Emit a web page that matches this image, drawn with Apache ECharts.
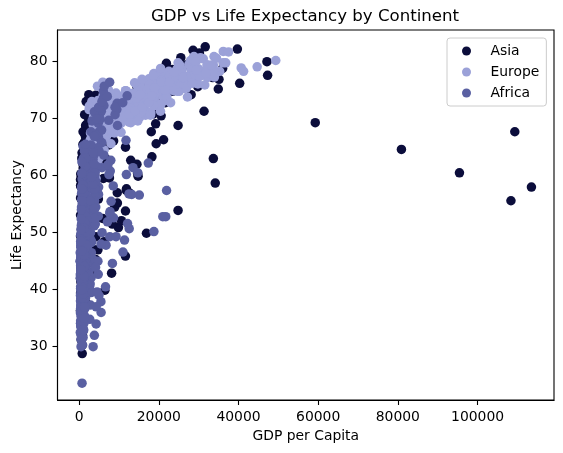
<!DOCTYPE html>
<html>
<head>
<meta charset="utf-8">
<script src="https://cdn.jsdelivr.net/npm/echarts@6/dist/echarts.min.js"></script>
<style>
html,body{margin:0;padding:0;background:#fff;}
#chart{width:563px;height:453px;}
</style>
</head>
<body>
<div id="chart"></div>
<script>
const seriesNames = ['Asia', 'Europe', 'Africa'];
const xTicks = [0, 20000, 40000, 60000, 80000, 100000];
const yTicks = [30, 40, 50, 60, 70, 80];

// GDP per capita / life expectancy, one line per country (12 observations each)
const asiaGdp = [
779,821,853,836,740,786,978,852,649,635,727,975,
9867,11636,12753,14805,18269,19340,19211,18524,19036,20292,23404,29796,
684,662,686,721,630,660,677,752,838,973,1136,1391,
368,434,497,523,422,525,625,684,682,734,896,1714,
400,576,488,613,677,741,962,1379,1656,2289,3119,4959,
3054,3629,4693,6198,8316,11186,14561,20038,24758,28378,30209,39725,
547,590,658,700,724,813,856,977,1164,1459,1747,2452,
750,859,849,762,1111,1383,1517,1748,2383,3119,2874,3541,
3035,3290,4187,5907,9614,11889,7608,6643,7235,8264,9241,11606,
4130,6229,8342,8931,9576,14688,14517,11644,3746,3076,4391,4471,
4087,5386,7106,8394,12787,13307,15367,17123,18051,20897,21906,25523,
3217,4318,6577,9848,14779,16610,19384,22376,26825,28817,28605,31656,
1547,1886,2348,2742,2110,2852,4162,4449,3431,3645,3845,4519,
1088,1571,1622,2144,3702,4106,4107,4106,3726,1691,1646,1593,
1031,1488,1536,2029,3031,4657,5623,8533,12104,15994,19234,23348,
108382,113523,95458,80895,109348,59265,31354,28118,34932,40301,35110,47307,
4835,6090,5715,6006,7486,8660,7641,5377,6891,8755,9314,10461,
1831,1810,2037,2278,2849,3828,4921,5249,7277,10132,10207,12452,
787,912,1057,1226,1422,1648,1716,2050,1785,1902,2140,3096,
331,350,388,349,357,371,424,385,347,415,611,944,
546,598,652,676,674,695,718,776,897,1011,1057,1091,
1828,2243,2925,4721,10618,11848,12955,18115,18617,19702,19775,22316,
685,747,804,942,1050,1176,1443,1705,1972,2049,2093,2606,
1273,1548,1650,1814,1990,2374,2604,2190,2279,2537,2651,3190,
6460,8157,11626,16903,24837,34168,33693,21199,24841,20586,19014,21655,
2315,2843,3675,4977,8598,11210,15169,18862,24769,33519,36023,47143,
1083,1073,1074,1136,1213,1349,1648,1877,2154,2665,3015,3970,
1644,2117,2194,1882,2572,3195,3762,3116,3341,4014,4091,4185,
1207,1508,1823,2644,4063,5597,7427,11054,15216,20207,23235,28718,
757,794,1002,1296,1524,1962,2393,2983,4617,5853,5914,7458,
605,676,773,637,700,714,707,821,989,1386,1764,2442,
1516,1827,2199,2650,3133,3683,4337,5108,6018,7110,4516,3025,
782,805,826,863,1265,1830,1978,1972,1879,2117,2235,2281
];
const asiaLife = [
28.8,30.3,32.0,34.0,36.1,38.4,39.9,40.8,41.7,41.8,42.1,43.8,
50.9,53.8,56.9,59.9,63.3,65.6,69.1,70.8,72.6,73.9,74.8,75.6,
37.5,39.3,41.2,43.5,45.3,46.9,50.0,52.8,56.0,59.4,62.0,64.1,
39.4,41.4,43.4,45.4,40.3,31.2,51.0,53.9,55.8,56.5,56.8,59.7,
44.0,50.5,44.5,58.4,63.1,64.0,65.5,67.3,68.7,70.4,72.0,73.0,
61.0,64.8,67.7,70.0,72.0,73.6,75.5,76.2,77.6,80.0,81.5,82.2,
37.4,40.2,43.6,47.2,50.7,54.2,56.6,58.6,60.2,61.8,62.9,64.7,
37.5,39.9,42.5,46.0,49.2,52.7,56.2,60.1,62.7,66.0,68.6,70.7,
44.9,47.2,49.3,52.5,55.2,57.7,59.6,63.0,65.7,68.0,69.5,71.0,
45.3,48.4,51.5,54.5,57.0,60.4,62.0,65.0,59.5,58.8,57.0,59.5,
65.4,67.8,69.4,70.8,71.6,73.1,74.5,75.6,76.9,78.3,79.7,80.7,
63.0,65.5,68.7,71.4,73.4,75.4,77.1,78.7,79.4,80.7,82.0,82.6,
43.2,45.7,48.1,51.6,56.5,61.1,63.7,65.9,68.0,69.8,71.3,72.5,
50.1,54.1,56.7,59.9,64.0,67.2,69.1,70.6,70.0,67.7,66.7,67.3,
47.5,52.7,55.3,57.7,62.6,64.8,67.1,69.8,72.2,74.6,77.0,78.6,
55.6,58.0,60.5,64.6,67.7,69.3,71.3,74.2,75.2,76.2,76.9,77.6,
55.9,59.5,62.1,63.9,65.4,66.1,67.1,67.9,69.3,70.3,71.0,72.0,
48.5,52.1,55.7,59.4,63.0,65.3,68.0,69.5,70.7,71.9,73.0,74.2,
42.2,45.2,48.3,51.3,53.8,55.5,57.5,60.2,61.3,61.5,63.6,66.8,
36.3,41.9,45.1,49.4,53.1,56.1,58.1,58.3,59.3,60.3,59.9,62.1,
36.2,37.7,39.4,41.2,44.0,46.7,49.6,52.5,55.7,59.4,61.3,63.8,
37.6,40.1,43.2,47.0,52.1,57.4,62.7,67.7,71.2,72.5,74.2,75.6,
43.4,45.6,47.7,49.8,51.9,54.0,56.2,58.2,60.8,61.8,63.6,65.5,
47.8,51.3,54.8,56.4,58.1,60.1,62.1,64.2,66.5,68.6,70.3,71.7,
39.9,42.9,45.9,49.9,53.9,58.7,63.0,66.3,68.8,70.5,71.6,72.8,
60.4,63.2,65.8,67.9,69.5,70.8,71.8,73.6,75.8,77.2,78.8,80.0,
57.6,61.5,62.2,64.3,65.0,65.9,68.8,69.0,70.4,70.5,70.8,72.4,
45.9,48.3,50.3,53.7,57.3,61.2,64.6,67.0,69.2,71.5,73.1,74.1,
58.5,62.4,65.2,67.5,69.4,70.6,72.2,73.4,74.3,75.3,77.0,78.4,
50.8,53.6,56.1,58.3,60.4,62.5,64.6,66.1,67.3,67.5,68.6,70.6,
40.4,42.9,45.4,47.8,50.3,55.8,58.8,62.8,67.7,70.7,73.0,74.2,
43.2,45.7,48.1,51.6,56.5,60.8,64.4,67.0,69.7,71.1,72.4,73.4,
32.5,34.0,35.2,37.0,39.8,44.2,49.1,52.9,55.6,58.0,60.3,62.7
];

const europeGdp = [
1601,1942,2313,2760,3313,3533,3631,3739,2497,3193,4604,5937,
6137,8843,10751,12835,16662,19749,21597,23688,27042,29096,32418,36126,
8343,9715,10991,13149,16672,19118,20980,22526,25576,27561,30486,33693,
974,1354,1710,2172,2860,3528,4127,4314,2547,4766,6019,7446,
2444,3009,4255,5578,6597,7612,8225,8240,6303,5971,7697,10681,
3120,4338,5478,6960,9164,11305,13222,13823,8448,9876,11628,14619,
6876,8257,10137,11399,13108,14800,15377,16310,14297,16049,17596,22833,
9692,11100,13583,15937,18867,20423,21689,25116,26407,29804,32167,35278,
6425,7545,9372,10922,14359,15605,18533,21141,20647,23724,28205,33207,
7030,8663,10560,12999,16107,18293,20294,22066,24704,25890,28926,30470,
7144,10188,12902,14746,18016,20513,22032,24639,26505,27789,30036,32170,
3531,4916,6017,8513,12725,14196,15268,16121,17541,18748,22514,27538,
5264,6040,7550,9326,10168,11674,12546,12986,10536,11712,14844,18009,
7268,9244,10350,13320,15798,19655,23270,26923,25144,28061,31163,36181,
5211,5599,6632,7656,9531,11151,12619,13873,17559,24522,34077,40676,
4931,6249,8244,10022,12269,14256,16537,19208,22014,24675,27968,28570,
2648,3682,4649,5907,7779,9595,11222,11733,7003,6465,6557,9254,
8942,11277,12791,15364,18795,21210,21400,23651,26791,30246,33725,36798,
10095,11654,13450,16362,18966,23311,26298,31541,33966,41283,44684,49357,
4029,4734,5339,6557,8007,9508,8452,9082,7739,10160,12002,15390,
3068,3775,4728,6361,9022,10172,11754,13039,16207,17641,19971,20510,
3145,3943,4735,6471,8011,9357,9606,9696,6598,7346,7886,10808,
3581,4981,6289,7992,10523,12980,15182,15870,9325,7915,7236,9787,
5074,6094,7481,8412,9674,10922,11349,12037,9499,12126,13639,18678,
4215,5862,7402,9405,12383,15277,17867,18678,14215,17161,20660,25768,
3834,4564,5694,7994,10639,13237,13926,15765,18603,20445,24835,28821,
8528,9912,12329,15258,17832,18856,20667,23587,23880,25267,29342,33860,
14734,17909,20431,22966,27195,26982,28398,30282,31872,32135,34481,37506,
1969,2219,2323,2826,3450,4269,4241,5089,5678,6601,6508,8458,
9980,11283,12477,14143,15895,17429,18232,21665,22705,26075,29479,33203
];
const europeLife = [
55.2,59.3,64.8,66.2,67.7,68.9,70.4,72.0,71.6,73.0,75.7,76.4,
66.8,67.5,69.5,70.1,70.6,72.2,73.2,74.9,76.0,77.5,79.0,79.8,
68.0,69.2,70.3,70.9,71.4,72.8,73.9,75.4,76.5,77.5,78.3,79.4,
53.8,58.5,61.9,64.8,67.5,69.9,70.7,71.1,72.2,73.2,74.1,74.9,
59.6,66.6,69.5,70.4,70.9,70.8,71.1,71.3,71.2,70.3,72.1,73.0,
61.2,64.8,67.1,68.5,69.6,70.6,70.5,71.5,72.5,73.7,74.9,75.7,
66.9,69.0,69.9,70.4,70.3,70.7,71.0,71.6,72.4,74.0,75.5,76.5,
70.8,71.8,72.4,73.0,73.5,74.7,74.6,74.8,75.3,76.1,77.2,78.3,
66.6,67.5,68.8,69.8,70.9,72.5,74.6,74.8,75.7,77.1,78.4,79.3,
67.4,68.9,70.5,71.6,72.4,73.8,74.9,76.3,77.5,78.6,79.6,80.7,
67.5,69.1,70.3,70.8,71.0,72.5,73.8,74.8,76.1,77.3,78.7,79.4,
65.9,67.9,69.5,71.0,72.3,73.7,75.2,76.7,77.0,77.9,78.3,79.5,
64.0,66.4,68.0,69.5,69.8,70.0,69.4,69.6,69.2,71.0,72.6,73.3,
72.5,73.5,73.7,73.7,74.5,76.1,77.0,77.2,78.8,79.0,80.5,81.8,
66.9,68.9,70.3,71.1,71.3,72.0,73.1,74.4,75.5,76.1,77.8,78.9,
65.9,67.8,69.2,71.1,72.2,73.5,75.0,76.4,77.4,78.8,80.2,80.5,
59.2,61.4,64.0,67.2,70.6,73.1,74.1,74.9,75.4,75.4,74.0,74.5,
72.1,73.0,73.2,73.8,73.8,75.2,76.1,76.8,77.4,78.0,78.5,79.8,
72.7,73.4,73.5,74.1,74.3,75.4,76.0,75.9,77.3,78.3,79.1,80.2,
61.3,65.8,67.6,69.6,70.9,70.7,71.3,71.0,71.0,72.8,74.7,75.6,
59.8,61.5,64.4,66.6,69.3,70.4,72.8,74.1,74.9,76.0,77.3,78.1,
61.1,64.1,66.8,66.8,69.2,69.5,69.7,69.5,69.4,69.7,71.3,72.5,
58.0,61.7,64.5,65.6,67.6,69.3,70.2,71.2,71.7,72.2,73.2,74.0,
64.4,67.5,69.2,70.0,70.3,70.5,70.8,71.1,71.4,72.7,73.8,74.7,
65.6,67.9,69.2,69.2,69.8,71.0,71.1,72.3,73.6,75.1,76.7,77.9,
64.9,66.7,69.7,71.4,73.1,74.4,76.3,76.9,77.6,78.8,79.8,80.9,
71.9,72.5,73.4,74.2,74.7,75.4,76.4,77.2,78.2,79.4,80.0,80.9,
69.6,70.6,71.3,72.8,73.8,75.4,76.2,77.4,78.0,79.4,80.6,81.7,
43.6,48.1,52.1,54.3,57.0,59.5,61.0,63.1,66.1,68.8,70.8,71.8,
69.2,70.4,70.8,71.4,72.0,72.8,74.0,75.0,76.4,77.2,78.5,79.4
];

const africaGdp = [
2449,3014,2551,3247,4183,4910,5745,5681,5023,4797,5288,6223,
3521,3828,4269,5523,5473,3009,2757,2430,2628,2277,2773,4797,
1063,960,949,1036,1086,1029,1278,1226,1191,1233,1373,1441,
851,918,984,1215,2264,3215,4551,6206,7954,8647,11004,12570,
543,617,723,795,855,743,807,912,932,946,1038,1217,
339,380,355,413,464,556,560,622,632,463,446,430,
1173,1313,1400,1508,1684,1783,2368,2603,1794,1694,1934,2042,
1071,1191,1193,1136,1070,1109,957,844,748,741,739,706,
1179,1308,1390,1197,1104,1134,798,952,1058,1005,1156,1704,
1103,1211,1407,1876,1938,1173,1267,1316,1247,1174,1076,986,
781,906,896,862,904,796,674,672,458,312,241,278,
2126,2315,2465,2678,3214,3259,4880,4201,4016,3485,3484,3633,
1389,1500,1729,2053,2378,2518,2603,2157,1648,1786,1648,1545,
2670,2865,3021,3020,3694,3082,2880,2880,2377,1895,1908,2082,
1419,1459,1693,1815,2024,2785,3504,3885,3795,4173,4754,5581,
376,426,582,915,672,959,927,967,1132,2815,7703,12154,
329,344,380,468,514,505,524,521,582,913,765,641,
362,378,419,516,566,556,577,574,421,516,530,691,
4293,4976,6631,8358,11401,21746,15113,11864,13522,14723,12522,13206,
485,521,599,734,757,884,836,612,666,653,660,753,
911,1044,1190,1126,1178,993,876,847,925,1005,1112,1328,
510,576,686,708,741,874,857,805,794,870,945,943,
300,432,522,716,820,765,838,736,745,797,576,580,
854,944,897,1057,1222,1268,1348,1361,1342,1360,1288,1463,
299,336,412,498,497,746,798,808,977,1186,1275,1569,
576,620,634,713,803,641,573,506,636,610,531,415,
2388,3448,6757,18773,21011,21951,17364,11770,9640,9467,9534,12057,
1443,1589,1643,1635,1749,1544,1302,1155,1040,986,894,1045,
369,416,428,495,585,663,633,636,564,693,665,759,
452,490,496,545,581,687,618,684,740,790,952,1043,
744,846,1056,1422,1586,1497,1481,1421,1361,1483,1579,1803,
1968,2034,2748,3151,3494,4686,4877,5647,7425,9021,9021,10957,
1688,1643,1566,1711,1930,2371,2702,2755,2948,2982,3258,3820,
469,495,556,567,725,502,462,390,410,473,633,824,
2424,2622,3173,3793,3747,3876,4191,3693,3805,3900,4072,4811,
762,860,1072,1054,954,808,909,668,582,580,601,620,
1077,1101,1151,1015,1698,1982,1577,1385,1620,1625,1615,2014,
2719,2770,3174,4022,4998,4319,5268,5303,6101,6072,6316,7670,
493,540,597,511,590,670,882,848,737,590,786,863,
880,861,1072,1385,1533,1738,1890,1517,1429,1340,1353,1598,
1450,1568,1654,1613,1597,1562,1518,1441,1367,1393,1519,1712,
880,1004,1117,1207,1354,1349,1466,1294,1069,575,699,863,
1136,1258,1369,1285,1254,1451,1176,1093,927,931,882,926,
4725,5487,5769,7114,7765,8029,8568,7826,7225,7479,7711,9270,
1616,1770,1959,1688,1660,2203,1895,1507,1493,1632,1993,2602,
1148,1244,1597,1711,2052,3781,3895,3985,3553,3876,4128,4513,
717,698,722,849,916,963,875,832,825,789,899,1107,
859,926,1067,1477,1649,1533,1344,1203,1034,982,886,883,
1469,1395,1661,1932,2753,3120,3561,3811,4333,4876,5723,7093,
735,774,768,908,950,844,682,618,644,817,928,1056,
1147,1312,1453,1777,1773,1589,1409,1213,1211,1071,1072,1271,
407,519,527,570,799,686,788,706,693,792,672,470
];
const africaLife = [
43.1,45.7,48.3,51.4,54.5,58.0,61.4,65.8,67.7,69.2,71.0,72.3,
30.0,32.0,34.0,36.0,37.9,39.5,39.9,39.9,40.6,41.0,41.0,42.7,
38.2,40.4,42.6,44.9,47.0,49.2,50.9,52.3,53.9,54.8,54.4,56.7,
47.6,49.6,51.5,53.3,56.0,59.3,61.5,63.6,62.7,52.6,46.6,50.7,
32.0,34.9,37.8,40.7,43.6,46.1,48.1,49.6,50.3,50.3,50.7,52.3,
39.0,40.5,42.0,43.5,44.1,45.9,47.5,48.2,44.7,45.3,47.4,49.6,
38.5,40.4,42.6,44.8,47.0,49.4,53.0,55.0,54.3,52.2,49.9,50.4,
35.5,37.5,39.5,41.5,43.5,46.8,48.3,50.5,49.4,46.1,43.3,44.7,
38.1,39.9,41.7,43.6,45.6,47.4,49.5,51.1,51.7,51.6,50.5,50.7,
40.7,42.5,44.5,46.5,48.9,50.9,52.9,54.9,57.9,60.7,63.0,65.2,
39.1,40.7,42.1,44.1,45.9,47.8,47.8,47.4,45.5,42.6,45.0,46.5,
42.1,44.7,48.4,52.0,54.9,55.6,56.7,57.5,56.4,53.0,53.0,55.3,
40.5,42.5,44.9,47.4,49.8,52.4,54.0,54.7,52.0,48.0,46.8,48.3,
34.8,37.3,39.7,42.1,44.4,46.5,48.8,50.0,51.6,53.2,53.4,54.8,
41.9,44.4,47.0,49.3,51.1,53.3,56.0,59.8,63.7,67.2,69.8,71.3,
34.5,36.0,37.5,39.0,40.5,42.0,43.7,45.7,47.5,48.2,49.3,51.6,
35.9,38.0,40.2,42.2,44.1,44.5,43.9,46.5,50.0,53.4,55.6,58.0,
34.1,36.7,40.1,42.1,43.5,44.5,44.9,46.7,48.1,49.4,50.7,52.9,
37.0,39.0,40.5,44.6,48.7,52.8,56.6,60.2,61.4,60.5,56.8,56.7,
30.0,32.1,33.9,35.9,38.3,41.8,45.6,49.3,52.6,55.9,58.0,59.4,
43.1,44.8,46.5,48.1,49.9,51.8,53.7,55.7,57.5,58.6,58.5,60.0,
33.6,34.6,36.0,37.2,38.8,40.8,42.9,45.2,48.6,51.5,53.7,56.0,
32.5,33.5,34.5,35.5,36.5,37.5,39.3,41.2,43.3,44.9,45.5,46.4,
42.3,44.7,47.9,50.7,53.6,56.2,58.8,59.3,59.3,54.4,51.0,54.1,
42.1,45.0,47.7,48.5,49.8,52.5,55.1,57.2,59.7,55.6,44.6,42.6,
38.5,39.5,40.5,41.5,42.6,43.8,44.9,46.0,40.8,42.2,43.8,45.7,
42.7,45.3,47.8,50.2,52.8,57.4,62.2,66.2,68.8,71.6,72.7,74.0,
36.7,38.9,40.8,42.9,44.9,46.9,48.9,49.4,52.2,55.0,57.3,59.4,
36.3,37.2,38.4,39.5,41.8,43.8,45.6,47.5,49.4,47.5,45.0,48.3,
33.7,35.3,36.9,38.5,40.0,41.7,43.9,46.4,48.4,49.9,51.8,54.5,
40.5,42.3,44.2,46.3,48.4,50.9,53.6,56.0,58.2,60.4,62.2,64.2,
51.0,58.1,60.2,61.6,62.9,64.9,66.7,68.0,69.7,70.7,72.0,72.8,
42.9,45.9,47.9,50.3,52.9,55.7,59.6,62.7,65.4,67.7,69.6,71.2,
31.3,33.8,36.2,38.1,40.3,42.5,42.8,42.9,44.3,46.3,44.0,42.1,
41.7,45.2,48.4,51.2,53.9,56.4,59.0,60.8,62.0,58.9,51.5,52.9,
37.4,38.6,39.5,40.1,40.5,41.3,42.6,44.6,47.4,51.3,54.5,56.9,
36.3,37.8,39.4,41.0,42.8,44.5,45.8,46.9,47.5,47.5,46.6,46.9,
52.7,55.1,57.7,60.5,64.3,67.1,69.9,71.9,73.6,74.8,75.7,76.4,
40.0,41.5,43.0,44.1,44.6,45.0,46.2,44.0,23.6,36.1,43.4,46.2,
46.5,48.9,51.9,54.4,56.5,58.6,60.4,61.7,62.7,63.3,64.3,65.5,
37.3,39.3,41.5,43.6,45.8,48.9,52.4,55.8,58.2,60.2,61.6,63.1,
30.3,31.6,32.8,34.1,35.4,36.8,38.4,40.0,38.3,39.9,41.0,42.6,
33.0,35.0,37.0,39.0,41.0,42.0,43.0,44.5,39.7,43.8,45.9,48.2,
45.0,48.0,50.0,51.9,53.7,55.5,58.2,60.8,61.9,60.2,53.4,49.3,
38.6,39.6,40.9,42.9,45.1,47.8,50.3,51.7,53.6,55.4,56.4,58.6,
41.4,43.4,45.0,46.6,49.6,52.5,55.6,57.7,58.5,54.3,43.9,39.6,
41.2,43.0,44.2,45.8,47.6,49.9,51.0,51.8,51.5,48.5,49.7,52.5,
38.6,41.2,43.9,46.8,49.8,52.9,55.5,56.9,58.1,58.4,57.6,58.4,
44.6,47.1,49.6,52.1,55.6,59.8,64.0,66.9,70.0,72.0,73.0,73.9,
40.0,42.6,45.3,48.1,51.0,50.4,49.8,51.5,48.8,44.6,47.8,51.5,
42.0,44.1,46.0,47.8,50.1,51.4,51.8,50.8,46.1,40.2,39.2,42.4,
48.5,50.5,52.4,54.0,55.6,57.7,60.4,62.4,60.4,46.8,40.0,43.5
];

const colors = ['#0b0d3b', '#9ba1d8', '#5a60a2'];
const FONT = 'DejaVu Sans';

function pairs(xs, ys) { return xs.map((x, i) => [x, ys[i]]); }
const seriesData = [pairs(asiaGdp, asiaLife), pairs(europeGdp, europeLife), pairs(africaGdp, africaLife)];

const chart = echarts.init(document.getElementById('chart'), null, {renderer: 'canvas'});
chart.setOption({
  animation: false,
  backgroundColor: '#ffffff',
  title: {
    text: 'GDP vs Life Expectancy by Continent',
    left: 300, top: 3, textAlign: 'center',
    textStyle: {fontFamily: FONT, fontSize: 16.6, fontWeight: 'normal', color: '#000'}
  },
  legend: {
    orient: 'vertical',
    left: 447, top: 38,
    padding: [6, 7, 6, 15],
    itemWidth: 38, itemHeight: 9, itemGap: 7,
    icon: 'circle',
    backgroundColor: 'rgba(255,255,255,0.8)',
    borderColor: '#cccccc', borderWidth: 1, borderRadius: 3,
    textStyle: {fontFamily: FONT, fontSize: 13.9, color: '#000', lineHeight: 14},
    data: seriesNames
  },
  grid: {left: 57.5, right: 9, top: 30, bottom: 53, outerBoundsMode: 'none', containLabel: false,
         show: true, borderColor: '#000', borderWidth: 1.1, backgroundColor: 'transparent'},
  xAxis: {
    type: 'value', min: -5423, max: 119187,
    name: 'GDP per Capita', nameLocation: 'middle', nameGap: 29, nameMoveOverlap: false,
    nameTextStyle: {fontFamily: FONT, fontSize: 13.9, color: '#000', verticalAlign: 'top'},
    axisLine: {show: true, onZero: false, lineStyle: {color: '#000', width: 1.1}},
    axisTick: {show: true, length: 5, lineStyle: {color: '#000', width: 1.1}, customValues: xTicks},
    axisLabel: {fontFamily: FONT, fontSize: 13.9, color: '#000', margin: 10, customValues: xTicks, formatter: v => String(v)},
    splitLine: {show: false}
  },
  yAxis: {
    type: 'value', min: 20.65, max: 85.55,
    name: 'Life Expectancy', nameLocation: 'middle', nameGap: 40, nameRotate: 90, nameMoveOverlap: false,
    nameTextStyle: {fontFamily: FONT, fontSize: 13.9, color: '#000', verticalAlign: 'middle'},
    axisLine: {show: true, onZero: false, lineStyle: {color: '#000', width: 1.1}},
    axisTick: {show: true, length: 5, lineStyle: {color: '#000', width: 1.1}, customValues: yTicks},
    axisLabel: {fontFamily: FONT, fontSize: 13.9, color: '#000', margin: 10, customValues: yTicks, formatter: v => String(v)},
    splitLine: {show: false}
  },
  series: seriesNames.map((name, i) => ({
    name: name, type: 'scatter', data: seriesData[i],
    symbol: 'circle', symbolSize: 9.5,
    itemStyle: {color: colors[i], opacity: 1},
    emphasis: {disabled: true}
  }))
});
</script>
</body>
</html>
